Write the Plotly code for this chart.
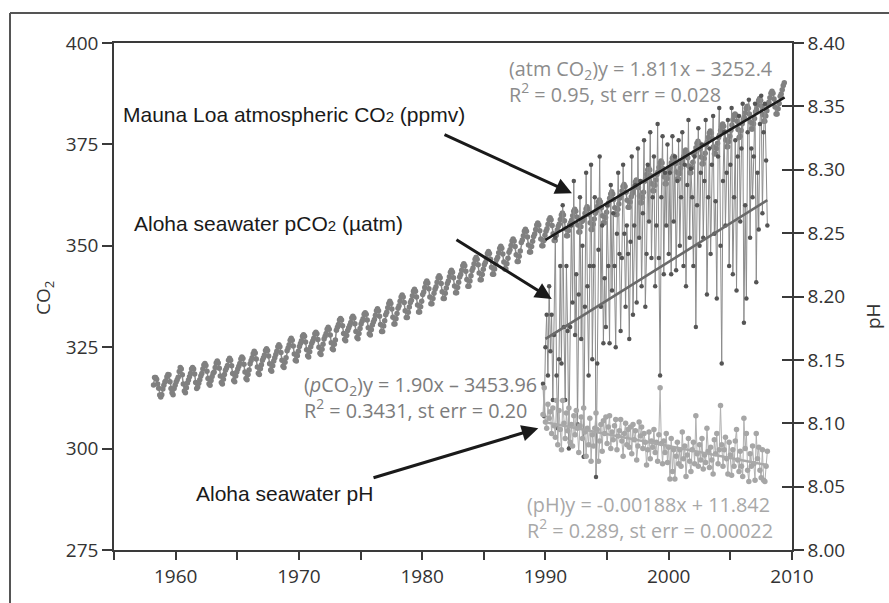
import plotly.graph_objects as go

# ---------------- data ----------------
# Mauna Loa monthly atmospheric CO2 (ppmv), March 1958 .. May 2009
mlo_start_year = 1958
mlo_start_month = 3
mlo_co2 = [
    315.7, 317.5, 317.5, 317.1, 315.9, 314.9, 313.2, 312.7, 313.3, 314.7,                 # 1958 (Mar-Dec)
    315.6, 316.4, 316.7, 317.7, 318.3, 318.2, 316.5, 314.8, 313.8, 313.3, 314.8, 315.6,   # 1959
    316.4, 317.0, 317.6, 319.0, 320.0, 319.6, 318.2, 315.9, 314.2, 313.8, 315.0, 316.2,   # 1960
    316.9, 317.7, 318.5, 319.6, 320.0, 319.6, 318.4, 316.3, 314.8, 315.2, 316.1, 317.0,   # 1961
    317.9, 318.5, 319.6, 320.6, 321.0, 320.5, 319.1, 317.3, 316.0, 315.6, 316.8, 317.8,   # 1962
    318.6, 318.9, 320.0, 321.1, 321.6, 321.1, 319.8, 317.9, 316.3, 315.9, 317.1, 318.3,   # 1963
    319.3, 319.9, 320.5, 321.8, 322.3, 321.8, 320.4, 318.5, 316.8, 316.5, 317.9, 318.9,   # 1964
    319.6, 320.3, 321.0, 322.1, 322.6, 322.2, 320.8, 318.9, 317.3, 317.0, 318.3, 319.4,   # 1965
    320.9, 321.7, 322.4, 323.4, 324.0, 323.6, 322.1, 320.1, 318.6, 318.3, 319.7, 320.7,   # 1966
    321.8, 322.4, 323.1, 324.2, 324.6, 324.2, 322.8, 320.9, 319.4, 319.1, 320.4, 321.6,   # 1967
    322.4, 323.2, 324.0, 325.1, 325.6, 325.1, 323.7, 321.8, 320.3, 320.0, 321.3, 322.4,   # 1968
    324.1, 324.8, 325.6, 326.7, 327.2, 326.7, 325.3, 323.3, 321.8, 321.6, 322.9, 324.0,   # 1969
    325.2, 325.9, 326.6, 327.7, 328.1, 327.7, 326.3, 324.4, 322.9, 322.6, 323.9, 325.1,   # 1970
    326.0, 326.5, 327.2, 328.3, 328.7, 328.3, 326.9, 325.0, 323.5, 323.2, 324.5, 325.7,   # 1971
    327.0, 327.7, 328.4, 329.4, 329.9, 329.4, 328.0, 326.1, 324.6, 324.4, 325.7, 326.8,   # 1972
    329.2, 329.9, 330.6, 331.7, 332.1, 331.7, 330.3, 328.4, 326.9, 326.6, 327.9, 329.1,   # 1973
    329.8, 330.4, 331.1, 332.2, 332.6, 332.2, 330.8, 328.9, 327.4, 327.1, 328.4, 329.6,   # 1974
    330.7, 331.4, 332.0, 333.1, 333.5, 333.1, 331.7, 329.8, 328.3, 328.0, 329.3, 330.5,   # 1975
    331.2, 331.8, 332.9, 334.0, 334.5, 334.0, 332.6, 330.6, 328.9, 328.9, 330.2, 331.5,   # 1976
    333.0, 333.6, 334.7, 335.8, 336.3, 335.8, 334.4, 332.4, 330.7, 330.7, 332.0, 333.3,   # 1977
    334.6, 335.2, 336.3, 337.4, 337.9, 337.4, 336.0, 334.0, 332.3, 332.3, 333.6, 334.9,   # 1978
    336.0, 336.6, 337.7, 338.8, 339.3, 338.8, 337.4, 335.4, 333.7, 333.7, 335.0, 336.3,   # 1979
    338.0, 338.6, 339.7, 340.8, 341.3, 340.8, 339.4, 337.4, 335.7, 335.7, 337.0, 338.3,   # 1980
    339.3, 339.9, 341.0, 342.1, 342.6, 342.1, 340.7, 338.7, 337.0, 337.0, 338.3, 339.6,   # 1981
    340.7, 341.3, 342.4, 343.5, 344.0, 343.5, 342.1, 340.1, 338.4, 338.4, 339.7, 341.0,   # 1982
    342.3, 342.9, 344.0, 345.1, 345.6, 345.1, 343.7, 341.7, 340.0, 340.0, 341.3, 342.6,   # 1983
    343.9, 344.5, 345.6, 346.7, 347.2, 346.7, 345.3, 343.3, 341.6, 341.6, 342.9, 344.2,   # 1984
    345.3, 345.9, 347.0, 348.1, 348.6, 348.1, 346.7, 344.7, 343.0, 343.0, 344.3, 345.6,   # 1985
    346.6, 347.2, 348.3, 349.4, 349.9, 349.4, 348.0, 346.0, 344.3, 344.3, 345.6, 346.9,   # 1986
    348.4, 349.0, 350.1, 351.2, 351.7, 351.2, 349.8, 347.8, 346.1, 346.1, 347.4, 348.7,   # 1987
    350.8, 351.4, 352.5, 353.6, 354.1, 353.6, 352.2, 350.2, 348.5, 348.5, 349.8, 351.1,   # 1988
    352.3, 352.9, 354.0, 355.1, 355.6, 355.1, 353.7, 351.7, 350.0, 350.0, 351.3, 352.6,   # 1989
    353.6, 354.2, 355.3, 356.4, 356.9, 356.4, 355.0, 353.0, 351.3, 351.3, 352.6, 353.9,   # 1990
    354.8, 355.4, 356.5, 357.6, 358.1, 357.6, 356.2, 354.2, 352.5, 352.5, 353.8, 355.1,   # 1991
    355.7, 356.3, 357.4, 358.5, 359.0, 358.5, 357.1, 355.1, 353.4, 353.4, 354.7, 356.0,   # 1992
    356.3, 356.9, 358.0, 359.1, 359.6, 359.1, 357.7, 355.7, 354.0, 354.0, 355.3, 356.6,   # 1993
    358.0, 358.6, 359.7, 360.8, 361.3, 360.8, 359.4, 357.4, 355.7, 355.7, 357.0, 358.3,   # 1994
    360.0, 360.6, 361.7, 362.8, 363.3, 362.8, 361.4, 359.4, 357.7, 357.7, 359.0, 360.3,   # 1995
    361.8, 362.4, 363.5, 364.6, 365.1, 364.6, 363.2, 361.2, 359.5, 359.5, 360.8, 362.1,   # 1996
    362.9, 363.5, 364.6, 365.7, 366.2, 365.7, 364.3, 362.3, 360.6, 360.6, 361.9, 363.2,   # 1997
    365.9, 366.5, 367.6, 368.7, 369.2, 368.7, 367.3, 365.3, 363.6, 363.6, 364.9, 366.2,   # 1998
    367.6, 368.2, 369.3, 370.4, 370.9, 370.4, 369.0, 367.0, 365.3, 365.3, 366.6, 367.9,   # 1999
    368.8, 369.4, 370.5, 371.6, 372.1, 371.6, 370.2, 368.2, 366.5, 366.5, 367.8, 369.1,   # 2000
    370.3, 370.9, 372.0, 373.1, 373.6, 373.1, 371.7, 369.7, 368.0, 368.0, 369.3, 370.6,   # 2001
    372.5, 373.1, 374.2, 375.3, 375.8, 375.3, 373.9, 371.9, 370.2, 370.2, 371.5, 372.8,   # 2002
    375.0, 375.6, 376.7, 377.8, 378.3, 377.8, 376.4, 374.4, 372.7, 372.7, 374.0, 375.3,   # 2003
    376.7, 377.3, 378.4, 379.5, 380.0, 379.5, 378.1, 376.1, 374.4, 374.4, 375.7, 377.0,   # 2004
    378.5, 379.8, 381.1, 382.2, 382.5, 382.2, 380.7, 378.7, 376.7, 377.0, 378.4, 380.1,   # 2005
    381.1, 381.7, 382.8, 383.9, 384.4, 383.9, 382.5, 380.5, 378.8, 378.8, 380.1, 381.4,   # 2006
    383.0, 383.6, 384.7, 385.8, 386.3, 385.8, 384.4, 382.4, 380.7, 380.7, 382.0, 383.3,   # 2007
    384.8, 385.4, 386.5, 387.6, 388.1, 387.6, 386.2, 384.2, 382.5, 382.5, 383.8, 385.1,   # 2008
    386.9, 387.4, 388.5, 389.5, 390.2,                                                     # 2009 (Jan-May)
]

# Station ALOHA samples, roughly every 0.1 yr starting 1989.8
aloha_start = 1989.8
aloha_step = 0.1
aloha_pco2 = [
    316, 308,
    325, 333, 318, 340, 324, 333, 312, 328, 352, 318,
    305, 322, 345, 321, 360, 330, 312, 345, 329, 300,
    330, 355, 336, 366, 328, 343, 306, 338, 362, 327,
    350, 298, 335, 368, 340, 318, 345, 370, 322, 345,
    362, 293, 321, 349, 372, 335, 355, 326, 342, 330,
    360, 345, 326, 365, 339, 358, 345, 325, 353, 368,
    348, 329, 347, 370, 353, 335, 355, 348, 327, 351,
    372, 333, 355, 365, 336, 374, 352, 366, 340, 358,
    376, 335, 348, 370, 356, 378, 347, 362, 372, 340,
    355, 380, 347, 318, 362, 377, 343, 368, 355, 375,
    348, 368, 343, 377, 356, 372, 344, 366, 376, 350,
    362, 378, 345, 370, 340, 365, 381, 352, 369, 362,
    345, 372, 330, 360, 379, 350, 368, 375, 352, 366,
    381, 338, 362, 374, 348, 370, 382, 353, 361, 337,
    372, 384, 350, 321, 366, 378, 355, 368, 381, 345,
    370, 384, 343, 362, 376, 339, 372, 382, 356, 374,
    385, 331, 360, 337, 378, 386, 352, 374, 362, 372,
    385, 341, 368, 354, 380, 387, 358, 378, 385, 371,
    355,
]
aloha_ph = [
    8.107, 8.128,
    8.101, 8.096, 8.115, 8.104, 8.109, 8.092, 8.112, 8.098, 8.089, 8.118,
    8.083, 8.110, 8.095, 8.079, 8.118, 8.100, 8.088, 8.108, 8.094, 8.112,
    8.085, 8.099, 8.082, 8.106, 8.091, 8.110, 8.096, 8.077, 8.098, 8.105,
    8.088, 8.112, 8.093, 8.074, 8.096, 8.083, 8.104, 8.070, 8.091, 8.082,
    8.096, 8.108, 8.095, 8.070, 8.086, 8.099, 8.078, 8.102, 8.092, 8.105,
    8.084, 8.097, 8.106, 8.080, 8.093, 8.087, 8.098, 8.103, 8.079, 8.090,
    8.094, 8.103, 8.086, 8.074, 8.092, 8.100, 8.083, 8.095, 8.081, 8.097,
    8.076, 8.099, 8.087, 8.094, 8.071, 8.082, 8.101, 8.090, 8.097, 8.080,
    8.092, 8.085, 8.067, 8.079, 8.093, 8.072, 8.086, 8.081, 8.095, 8.077,
    8.085, 8.070, 8.091, 8.128, 8.084, 8.068, 8.086, 8.077, 8.092, 8.069,
    8.081, 8.056, 8.088, 8.062, 8.079, 8.056, 8.074, 8.085, 8.068, 8.079,
    8.066, 8.093, 8.072, 8.082, 8.058, 8.075, 8.088, 8.070, 8.062, 8.079,
    8.085, 8.068, 8.106, 8.076, 8.066, 8.083, 8.071, 8.088, 8.064, 8.075,
    8.069, 8.096, 8.078, 8.065, 8.081, 8.071, 8.060, 8.087, 8.076, 8.092,
    8.068, 8.079, 8.114, 8.083, 8.066, 8.079, 8.089, 8.072, 8.060, 8.085,
    8.075, 8.059, 8.079, 8.066, 8.086, 8.095, 8.071, 8.062, 8.078, 8.066,
    8.058, 8.104, 8.080, 8.092, 8.063, 8.054, 8.076, 8.066, 8.082, 8.068,
    8.055, 8.092, 8.072, 8.081, 8.063, 8.057, 8.079, 8.055, 8.054, 8.066,
    8.078,
]

# Regression fits printed on the chart: (slope, intercept, x-start, x-end)
reg_atm = (1.811, -3252.4, 1990.0, 2009.4)
reg_pco2 = (1.90, -3453.96, 1990.0, 2008.0)
reg_ph = (-0.00188, 11.842, 1990.0, 2008.0)

x_ticks = [1960, 1970, 1980, 1990, 2000, 2010]
x_minor = [1955, 1965, 1975, 1985, 1995, 2005]
co2_ticks = [275, 300, 325, 350, 375, 400]
ph_ticks = [8.00, 8.05, 8.10, 8.15, 8.20, 8.25, 8.30, 8.35, 8.40]

# ---------------- derived coordinates ----------------
mlo_t = [mlo_start_year + (mlo_start_month - 1 + i + 0.5) / 12.0 for i in range(len(mlo_co2))]
n_al = min(len(aloha_pco2), len(aloha_ph))
aloha_t = [aloha_start + aloha_step * i for i in range(n_al)]


def reg_line(r):
    a, b, x0, x1 = r
    return [x0, x1], [a * x0 + b, a * x1 + b]


AX = "#3a3a3a"
TICKFONT = dict(family="Open Sans, Noto Sans, sans-serif", size=19, color="#333333")

fig = go.Figure()

fig.add_trace(go.Scatter(
    x=mlo_t, y=mlo_co2, mode="lines+markers",
    line=dict(color="#8a8a8a", width=1.5),
    marker=dict(color="#808080", size=5.5),
    yaxis="y", hoverinfo="skip"))

fig.add_trace(go.Scatter(
    x=aloha_t[:n_al], y=aloha_pco2[:n_al], mode="lines+markers",
    line=dict(color="#8c8c8c", width=1),
    marker=dict(color="#555555", size=4.5),
    yaxis="y", hoverinfo="skip"))

xr, yr = reg_line(reg_atm)
fig.add_trace(go.Scatter(x=xr, y=yr, mode="lines", line=dict(color="#1a1a1a", width=2.6),
                         yaxis="y", hoverinfo="skip"))
xr, yr = reg_line(reg_pco2)
fig.add_trace(go.Scatter(x=xr, y=yr, mode="lines", line=dict(color="#6a6a6a", width=2.6),
                         yaxis="y", hoverinfo="skip"))

fig.add_trace(go.Scatter(
    x=aloha_t[:n_al], y=aloha_ph[:n_al], mode="lines+markers",
    line=dict(color="#b0b0b0", width=1),
    marker=dict(color="#a6a6a6", size=5.5),
    yaxis="y2", hoverinfo="skip"))

xr, yr = reg_line(reg_ph)
fig.add_trace(go.Scatter(x=xr, y=yr, mode="lines", line=dict(color="#a9a9a9", width=2.6),
                         yaxis="y3", hoverinfo="skip"))

fig.update_layout(
    width=889, height=603,
    margin=dict(l=114, r=97, t=43, b=53),
    paper_bgcolor="white", plot_bgcolor="white",
    showlegend=False,
    xaxis=dict(
        range=[1955, 2010], tickvals=x_ticks, ticks="outside", ticklen=8, tickwidth=1.5,
        tickcolor=AX, showline=True, linecolor=AX, linewidth=1.5, mirror=True,
        showgrid=False, zeroline=False, tickfont=TICKFONT,
        minor=dict(tickvals=x_minor, ticks="outside", ticklen=8, tickwidth=1.5,
                   tickcolor=AX, showgrid=False),
    ),
    yaxis=dict(
        range=[275, 400], tickvals=co2_ticks, ticks="outside", ticklen=10, tickwidth=1.5,
        tickcolor=AX, showline=True, linecolor=AX, linewidth=1.5,
        showgrid=False, zeroline=False, tickfont=TICKFONT,
    ),
    yaxis2=dict(
        range=[8.0, 8.4], tickvals=ph_ticks, tickformat=".2f", overlaying="y", side="right",
        anchor="x", ticks="outside", ticklen=10, tickwidth=1.5, tickcolor=AX,
        showline=True, linecolor=AX, linewidth=1.5, showgrid=False, zeroline=False,
        tickfont=TICKFONT,
    ),
    yaxis3=dict(
        range=[8.0, 8.4], tickvals=ph_ticks[1:-1], overlaying="y", side="right", anchor="x",
        ticks="inside", ticklen=10, tickwidth=1.5, tickcolor=AX, showticklabels=False,
        showline=False, showgrid=False, zeroline=False,
    ),
)

# outer frame (left and top edges of the figure panel)
fig.add_shape(type="line", xref="paper", yref="paper",
              x0=(10 - 114) / 678, x1=(889 - 114) / 678 + 0.01,
              y0=(550 - 13) / 507, y1=(550 - 13) / 507,
              line=dict(color="#555555", width=2))
fig.add_shape(type="line", xref="paper", yref="paper",
              x0=(10 - 114) / 678, x1=(10 - 114) / 678,
              y0=(550 - 13) / 507, y1=(550 - 610) / 507,
              line=dict(color="#555555", width=2))

# axis titles
fig.add_annotation(text="CO<sub>2</sub>", xref="paper", yref="paper",
                   x=(44 - 114) / 678, y=(550 - 298) / 507, textangle=-90,
                   showarrow=False, font=TICKFONT, xanchor="center", yanchor="middle")
fig.add_annotation(text="pH", xref="paper", yref="paper",
                   x=(873 - 114) / 678, y=(550 - 316) / 507, textangle=-90,
                   showarrow=False, font=TICKFONT, xanchor="center", yanchor="middle")

LAB = dict(family="Liberation Sans, Arial, sans-serif", size=21, color="#1a1a1a")
SMALL2 = "<span style='font-size:15px'>2</span>"

fig.add_annotation(text="Mauna Loa atmospheric CO" + SMALL2 + " (ppmv)",
                   x=1955.57, y=382.3, xref="x", yref="y", showarrow=False,
                   xanchor="left", yanchor="middle", font=LAB)
fig.add_annotation(text="Aloha seawater pCO" + SMALL2 + " (µatm)",
                   x=1956.46, y=355.6, xref="x", yref="y", showarrow=False,
                   xanchor="left", yanchor="middle", font=LAB)
fig.add_annotation(text="Aloha seawater pH",
                   x=1961.5, y=289.0, xref="x", yref="y", showarrow=False,
                   xanchor="left", yanchor="middle", font=LAB)

# arrows
ARW = dict(showarrow=True, arrowhead=2, arrowsize=1.1, arrowwidth=3, arrowcolor="#1a1a1a",
           xref="x", yref="y", axref="x", ayref="y", text="")
fig.add_annotation(x=1992.15, y=362.95, ax=1981.69, ay=377.6, **ARW)
fig.add_annotation(x=1990.51, y=336.9, ax=1982.66, ay=351.7, **ARW)
fig.add_annotation(x=1989.42, y=305.0, ax=1975.93, ay=292.7, **ARW)

# regression equations
EQ = dict(family="Open Sans, Noto Sans, sans-serif", size=19.8)
fig.add_annotation(text="(atm CO<sub>2</sub>)y = 1.811x – 3252.4<br>R<sup>2</sup> = 0.95, st err = 0.028",
                   x=1986.88, y=390.6, xref="x", yref="y", showarrow=False, align="left",
                   xanchor="left", yanchor="middle", font=dict(EQ, color="#8c8c8c"))
fig.add_annotation(text="(<i>p</i>CO<sub>2</sub>)y = 1.90x – 3453.96<br>R<sup>2</sup> = 0.3431, st err = 0.20",
                   x=1970.25, y=312.5, xref="x", yref="y", showarrow=False, align="left",
                   xanchor="left", yanchor="middle", font=dict(EQ, color="#7c7c7c"))
fig.add_annotation(text="(pH)y = -0.00188x + 11.842<br>R<sup>2</sup> = 0.289, st err = 0.00022",
                   x=1988.34, y=283.1, xref="x", yref="y", showarrow=False, align="left",
                   xanchor="left", yanchor="middle", font=dict(EQ, color="#a8a8a8"))

fig.write_html("out.html")
